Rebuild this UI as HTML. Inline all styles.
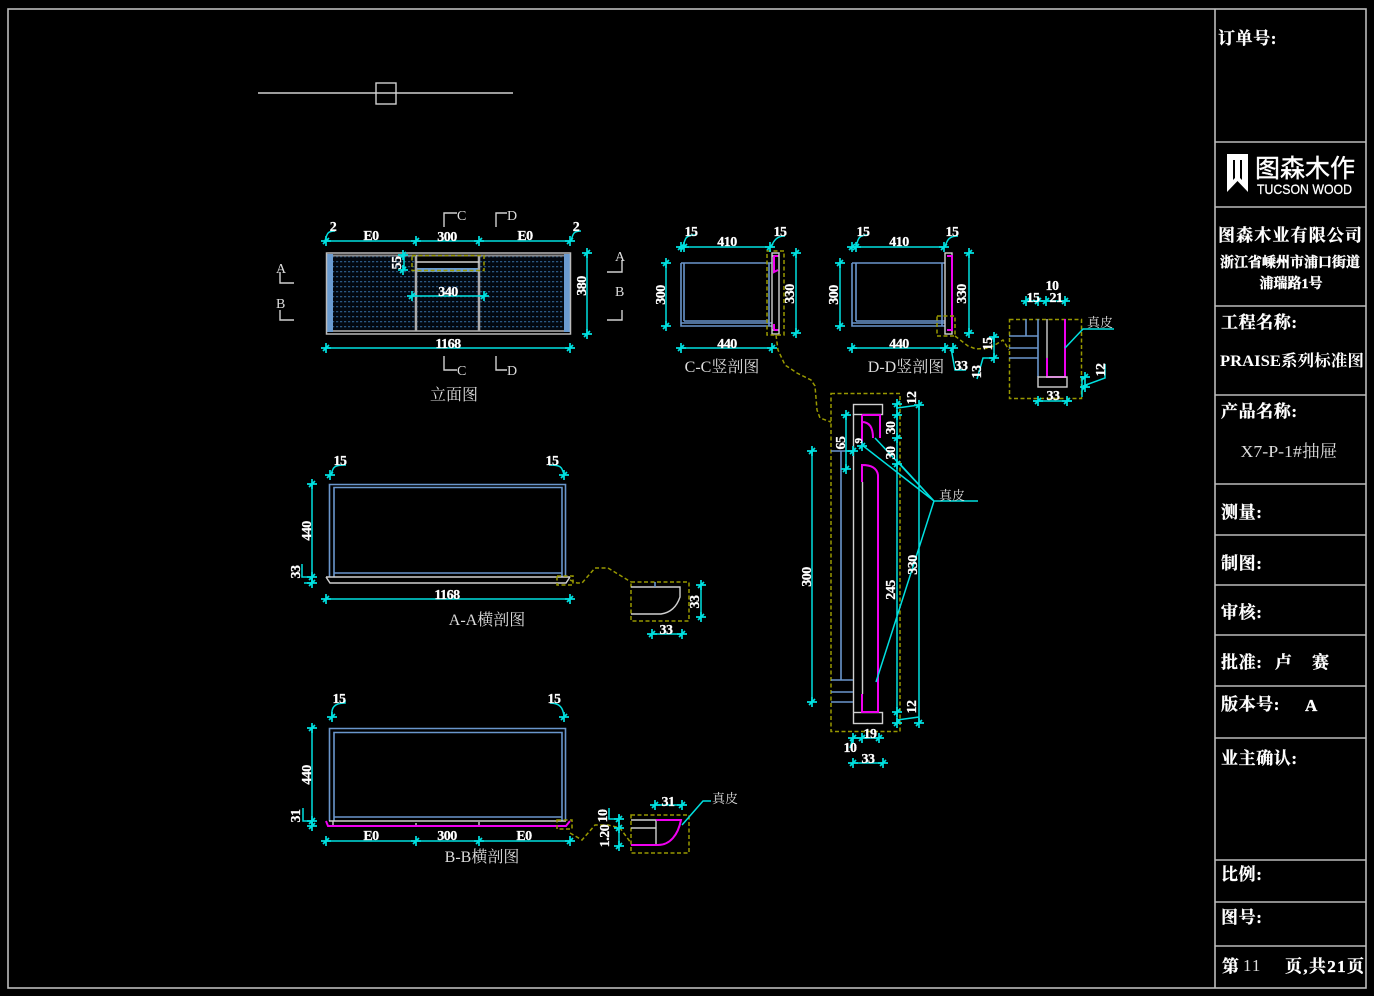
<!DOCTYPE html>
<html><head><meta charset="utf-8"><style>
html,body{margin:0;padding:0;background:#000;width:1374px;height:996px;overflow:hidden}
svg{display:block}
text{font-family:"Liberation Serif","Noto Serif CJK SC",serif;fill:#fff}
.d{font-size:14px;font-weight:bold;text-anchor:middle;letter-spacing:-.5px;stroke:#fff;stroke-width:.25}
.l{font-size:14px;fill:#ddd}
.t{font-size:16px;fill:#ddd;text-anchor:middle}
.b{font-size:17px;font-weight:bold;letter-spacing:.6px;stroke:#fff;stroke-width:.3}
.c{fill:none;stroke:#00e0e0;stroke-width:1.5}
.w{fill:none;stroke:#d0d0d0;stroke-width:1.4}
.g{fill:none;stroke:#bbb;stroke-width:2}
.u{fill:none;stroke:#6a96cc;stroke-width:1.6}
.m{fill:none;stroke:#f000f0;stroke-width:2}
.y{fill:none;stroke:#989800;stroke-width:1.5;stroke-dasharray:4 2.5}
</style></head><body>
<svg width="1374" height="996" viewBox="0 0 1374 996" xmlns="http://www.w3.org/2000/svg">
<defs>
<g id="x" class="c"><path d="M-5 0H5M0-5V5M-3 3L3-3" stroke-width="1.7"/></g>
<pattern id="h" width="4" height="5" patternUnits="userSpaceOnUse"><rect width="4" height="5" fill="#020810"/><rect x="0" y="1" width="2.2" height="1.3" fill="#2a5680"/></pattern>
</defs>
<rect width="1374" height="996" fill="#000"/>
<!-- Title block -->
<g class="g" style="stroke-width:1.6">
<rect x="8" y="9" width="1358" height="979"/>
<path d="M1215 9V988M1215 142H1366M1215 207H1366M1215 306H1366M1215 395H1366M1215 484H1366M1215 535H1366M1215 585H1366M1215 635H1366M1215 686H1366M1215 738H1366M1215 860H1366M1215 902H1366M1215 946H1366"/>
</g>
<text class="b" x="1218" y="44">订单号:</text>
<path d="M1227 154H1248V192L1237.500 181L1227 192ZM1233 160V180L1235 178V160ZM1240 160V178L1242 180V160Z" fill="#fff" fill-rule="evenodd"/>
<text x="1255" y="177" style="font-family:'Liberation Sans','Noto Sans CJK SC',sans-serif;font-size:25px;stroke:#fff;stroke-width:.4" textLength="100" lengthAdjust="spacingAndGlyphs">图森木作</text>
<text x="1257" y="194" style="font-family:'Liberation Sans',sans-serif;font-size:14px;stroke:#fff;stroke-width:.3" textLength="95" lengthAdjust="spacingAndGlyphs">TUCSON WOOD</text>
<text class="b" x="1218" y="241" textLength="144" style="letter-spacing:0">图森木业有限公司</text>
<text x="1290" y="267" text-anchor="middle" style="font-size:14px;font-weight:bold;stroke:#fff;stroke-width:.4">浙江省嵊州市浦口街道</text>
<text x="1291" y="288" text-anchor="middle" style="font-size:14px;font-weight:bold;stroke:#fff;stroke-width:.4">浦瑞路1号</text>
<text class="b" x="1221" y="328">工程名称:</text>
<text x="1220" y="366" style="font-size:16px;font-weight:bold" textLength="144" lengthAdjust="spacingAndGlyphs">PRAISE系列标准图</text>
<text class="b" x="1221" y="417">产品名称:</text>
<text x="1289" y="457" text-anchor="middle" style="font-size:17px;fill:#ddd" textLength="97" lengthAdjust="spacingAndGlyphs">X7-P-1#抽屉</text>
<text class="b" x="1221" y="518">测量:</text>
<text class="b" x="1221" y="569">制图:</text>
<text class="b" x="1221" y="618">审核:</text>
<text class="b" x="1221" y="668">批准:</text>
<text class="b" x="1275" y="668">卢</text>
<text class="b" x="1312" y="668">赛</text>
<text class="b" x="1221" y="710">版本号:</text>
<text class="b" x="1305" y="711">A</text>
<text class="b" x="1221" y="764">业主确认:</text>
<text class="b" x="1221" y="880">比例:</text>
<text class="b" x="1221" y="923">图号:</text>
<text class="b" x="1222" y="972">第</text>
<text x="1243" y="971" style="font-size:17px;fill:#ddd;letter-spacing:1px">11</text>
<text class="b" x="1285" y="972" textLength="79" style="letter-spacing:0">页,共21页</text>

<!-- Top line -->
<path class="w" d="M258 93H513"/><rect class="w" x="376" y="83" width="20" height="21"/>

<!-- Elevation -->
<rect x="333" y="256" width="83" height="75" fill="url(#h)"/>
<rect x="417" y="272" width="62" height="59" fill="url(#h)"/>
<rect x="480" y="256" width="84" height="75" fill="url(#h)"/>
<rect x="326" y="254" width="7" height="78" fill="#6a9bd0"/><rect x="564" y="254" width="6.500" height="78" fill="#6a9bd0"/>
<rect x="416" y="268" width="63" height="4" fill="#6a9bd0"/>
<rect x="326.500" y="253" width="244" height="81" fill="none" stroke="#bbb" stroke-width="1.500"/>
<path d="M333 255.500H564M333 331H564" stroke="#888" stroke-width="2" fill="none"/>
<path d="M416 255V331M479 255V331" stroke="#aaa" stroke-width="2.500" fill="none"/>
<path class="w" d="M416 262H479"/>
<rect class="y" x="412" y="255.500" width="72" height="15"/>
<path class="c" d="M325 241H571M404 253V270M412 296H484M587 253V334M325 348H571"/>
<path class="c" d="M325 241C327 233 328 231 335 231M571 241C573 233 574 231 581 231"/>
<use href="#x" x="326" y="241"/><use href="#x" x="416" y="241"/><use href="#x" x="479" y="241"/><use href="#x" x="570" y="241"/>
<use href="#x" x="403" y="255"/><use href="#x" x="403" y="270"/><use href="#x" x="412" y="296"/><use href="#x" x="484" y="296"/>
<use href="#x" x="587" y="253"/><use href="#x" x="587" y="334"/><use href="#x" x="326" y="348"/><use href="#x" x="570" y="348"/>
<text class="d" x="333" y="231">2</text><text class="d" x="576" y="231">2</text>
<text class="d" x="371" y="240">E0</text><text class="d" x="447" y="241">300</text><text class="d" x="525" y="240">E0</text>
<text class="d" x="397" y="263" transform="rotate(-90 397 263)" dy="4">55</text><text class="d" x="448" y="296">340</text>
<text class="d" x="582" y="286" transform="rotate(-90 582 286)" dy="4">380</text><text class="d" x="448" y="348">1168</text>
<g class="w"><path d="M280 272V283H294M280 310V320H294M444 227V213H457M496 227V213H507M444 356V370H457M496 356V370H507M622 260V272H607M622 310V320H607"/></g>
<text class="l" x="276" y="273">A</text><text class="l" x="276" y="308">B</text><text class="l" x="457" y="220">C</text><text class="l" x="507" y="220">D</text>
<text class="l" x="457" y="375">C</text><text class="l" x="507" y="375">D</text><text class="l" x="615" y="261">A</text><text class="l" x="615" y="296">B</text>
<text class="t" x="454" y="400">立面图</text>

<!-- C-C -->
<path class="u" d="M681 263H772M681 263V326H772M684 263V321M769 263V326M684 321H769M681 323H772"/>
<rect class="w" x="772" y="253" width="7" height="81"/><path class="w" d="M772 256H779M772 330H779"/>
<path class="m" d="M774 256H778M774 256V272L778 270M774 330H778M774 330V324"/>
<rect class="y" x="767" y="251" width="17" height="84"/>
<path class="c" d="M681 247H773M666 263V326M796 253V333M681 348H773"/>
<path class="c" d="M683 247C685 238 686 235 695 235M771 247C774 240 777 236 785 236"/>
<use href="#x" x="681" y="247"/><use href="#x" x="684" y="247"/><use href="#x" x="770" y="247"/>
<use href="#x" x="666" y="263"/><use href="#x" x="666" y="326"/><use href="#x" x="796" y="253"/><use href="#x" x="796" y="333"/><use href="#x" x="681" y="348"/><use href="#x" x="772" y="348"/>
<text class="d" x="691" y="236">15</text><text class="d" x="780" y="236">15</text><text class="d" x="727" y="246">410</text><text class="d" x="727" y="348">440</text>
<text class="d" x="661" y="295" transform="rotate(-90 661 295)" dy="4">300</text><text class="d" x="790" y="294" transform="rotate(-90 790 294)" dy="4">330</text>
<text class="t" x="722" y="372">C-C竖剖图</text>

<!-- D-D -->
<path class="u" d="M852 263H945M852 263V326H945M856 263V321M942 263V326M856 321H945M852 323H945"/>
<rect class="w" x="945" y="253" width="7" height="81"/>
<path class="m" d="M947 256H952V330H947"/>
<rect class="y" x="937" y="316" width="18" height="20"/>
<path class="c" d="M852 247H945M840 263V326M969 253V333M852 348H945M951 348L955 370H966"/>
<path class="c" d="M856 247C858 238 859 235 868 235M945 247C947 240 949 236 958 236"/>
<use href="#x" x="852" y="247"/><use href="#x" x="856" y="247"/><use href="#x" x="944" y="247"/>
<use href="#x" x="840" y="263"/><use href="#x" x="840" y="326"/><use href="#x" x="969" y="253"/><use href="#x" x="969" y="333"/><use href="#x" x="852" y="348"/><use href="#x" x="945" y="348"/><use href="#x" x="953" y="348"/>
<text class="d" x="863" y="236">15</text><text class="d" x="952" y="236">15</text><text class="d" x="899" y="246">410</text><text class="d" x="899" y="348">440</text>
<text class="d" x="834" y="295" transform="rotate(-90 834 295)" dy="4">300</text><text class="d" x="962" y="294" transform="rotate(-90 962 294)" dy="4">330</text>
<text class="d" x="961" y="370">33</text>
<text class="t" x="906" y="372">D-D竖剖图</text>
<path class="y" d="M955 336L968 346L976 349L990 348L1003 340L1009 350"/>

<!-- D detail -->
<rect class="y" x="1009.500" y="319.500" width="72" height="79"/>
<path class="u" d="M1026 319V336M1009 336H1038M1009 348H1038M1009 358H1038M1038 319V377"/>
<path class="w" d="M1047 319V358"/>
<path class="m" d="M1047 358V377H1065V319"/>
<rect class="w" x="1038" y="377" width="29" height="10"/>
<path class="c" d="M1025 301H1068M1065 348L1083 329H1114M994 337V358L983 358 977 379M1082 397V376M1083 386L1105 378V364M1033 401H1072"/>
<use href="#x" x="1026" y="301"/><use href="#x" x="1038" y="301"/><use href="#x" x="1046" y="301"/><use href="#x" x="1065" y="301"/>
<use href="#x" x="994" y="337"/><use href="#x" x="994" y="358"/><use href="#x" x="1085" y="377"/><use href="#x" x="1085" y="387"/><use href="#x" x="1038" y="401"/><use href="#x" x="1067" y="401"/>
<text class="d" x="1033" y="302">15</text><text class="d" x="1052" y="290">10</text><text class="d" x="1056" y="302">21</text>
<text class="d" x="988" y="344" transform="rotate(-90 988 344)" dy="4">15</text><text class="d" x="977" y="372" transform="rotate(-90 977 372)" dy="4">13</text>
<text class="d" x="1101" y="370" transform="rotate(-90 1101 370)" dy="4">12</text><text class="d" x="1053" y="400">33</text>
<text class="l" x="1087" y="327" style="font-size:13px">真皮</text>

<!-- Connector C-C to big section -->
<path class="y" d="M776 335L778 350L785 365L797 373L811 380L815 386L817 410L820 418L831 422"/>

<!-- Big section -->
<rect class="y" x="831" y="393.500" width="69" height="338"/>
<rect class="w" x="853.500" y="404.500" width="29" height="10"/><rect class="w" x="853.500" y="712.500" width="29" height="11"/>
<path class="w" d="M853.500 414V712M862.500 482V694"/>
<path class="u" d="M831 451H853M841 451V680M831 680H853M831 692H853M831 702H853"/>
<path class="m" d="M862 482V465C871 465 877 468 878 475V712H862V694M862 415V446M862 415H880V438M862 422C870 422 873 428 873 438"/>
<path class="c" d="M812 451V702M846 415V469M897 404V723M919 405V723M853 738H879M853 763H883M978 501H934L875 438M934 501L862 445M934 501L900 464M934 501L876 682M919 405L897 408M919 717L897 720M853 738L850 748M846 451H853"/>
<use href="#x" x="812" y="451"/><use href="#x" x="812" y="702"/><use href="#x" x="846" y="415"/><use href="#x" x="846" y="469"/>
<use href="#x" x="897" y="404"/><use href="#x" x="897" y="415"/><use href="#x" x="897" y="438"/><use href="#x" x="897" y="464"/><use href="#x" x="897" y="712"/><use href="#x" x="897" y="723"/>
<use href="#x" x="919" y="405"/><use href="#x" x="919" y="723"/><use href="#x" x="853" y="738"/><use href="#x" x="862" y="738"/><use href="#x" x="879" y="738"/><use href="#x" x="853" y="763"/><use href="#x" x="883" y="763"/><use href="#x" x="853" y="451"/><use href="#x" x="862" y="446"/>
<text class="d" x="808" y="577" transform="rotate(-90 808 577)" dy="3">300</text><text class="d" x="841" y="443" transform="rotate(-90 841 443)" dy="4">65</text><text class="d" x="858" y="441" transform="rotate(-90 858 441)" dy="4" style="font-size:11px">9</text>
<text class="d" x="912" y="398" transform="rotate(-90 912 398)" dy="4">12</text><text class="d" x="891" y="428" transform="rotate(-90 891 428)" dy="4">30</text><text class="d" x="891" y="453" transform="rotate(-90 891 453)" dy="4">30</text>
<text class="d" x="891" y="590" transform="rotate(-90 891 590)" dy="4">245</text><text class="d" x="913" y="565" transform="rotate(-90 913 565)" dy="4">330</text><text class="d" x="912" y="707" transform="rotate(-90 912 707)" dy="4">12</text>
<text class="d" x="870" y="738">19</text><text class="d" x="850" y="752">10</text><text class="d" x="868" y="763">33</text>
<text class="l" x="939" y="500" style="font-size:13px">真皮</text>

<!-- A-A -->
<path class="u" d="M329.500 577V484.500H565.500V577M334 577V487.500H562V577M334 573H562"/>
<path class="w" d="M326 577H570M326 577L330 583H566L570 577"/>
<rect class="y" x="557" y="576" width="16" height="9"/>
<path class="y" d="M570 580L577 583H582L595 568H608L631 582"/>
<path class="c" d="M312 484V583M326 599H570M331 475C333 466 335 465 346 465M564 475C562 466 560 465 549 465M312 577L302 577V564M312 583H304"/>
<use href="#x" x="312" y="484"/><use href="#x" x="312" y="577"/><use href="#x" x="312" y="583"/><use href="#x" x="330" y="475"/><use href="#x" x="564" y="475"/><use href="#x" x="326" y="599"/><use href="#x" x="570" y="599"/>
<text class="d" x="340" y="465">15</text><text class="d" x="552" y="465">15</text><text class="d" x="307" y="531" transform="rotate(-90 307 531)" dy="4">440</text><text class="d" x="296" y="572" transform="rotate(-90 296 572)" dy="4">33</text><text class="d" x="447" y="599">1168</text>
<text class="t" x="487" y="625">A-A横剖图</text>
<rect class="y" x="631" y="582" width="58" height="39"/>
<path class="w" d="M631 587H680V597C676 609 668 613 661 614H631"/>
<path class="u" d="M655 582V587"/>
<path class="c" d="M701 585V617M652 634H682"/>
<use href="#x" x="701" y="585"/><use href="#x" x="701" y="617"/><use href="#x" x="652" y="634"/><use href="#x" x="682" y="634"/>
<text class="d" x="695" y="602" transform="rotate(-90 695 602)" dy="4">33</text><text class="d" x="666" y="634">33</text>

<!-- B-B -->
<path class="u" d="M329.500 821V728.500H565.500V821M334 821V732.500H562V821M334 817H562"/>
<path class="w" d="M329 821H566M333 826V821M416 826V823M479 826V822"/>
<path class="m" d="M326 821L328 826H566L570 821"/>
<rect class="y" x="557" y="820" width="15" height="9"/>
<path class="y" d="M570 833L582 840L595 825H608L620 828L631 843"/>
<path class="c" d="M312 728V824M326 841H570M332 716C331 708 334 703 345 703V700M564 716C563 708 560 703 550 703M312 821L303 821V808"/>
<use href="#x" x="312" y="728"/><use href="#x" x="312" y="821"/><use href="#x" x="312" y="826"/><use href="#x" x="332" y="717"/><use href="#x" x="564" y="717"/>
<use href="#x" x="326" y="841"/><use href="#x" x="416" y="841"/><use href="#x" x="479" y="841"/><use href="#x" x="570" y="841"/>
<text class="d" x="339" y="703">15</text><text class="d" x="554" y="703">15</text><text class="d" x="307" y="775" transform="rotate(-90 307 775)" dy="4">440</text><text class="d" x="296" y="816" transform="rotate(-90 296 816)" dy="4">31</text>
<text class="d" x="371" y="840">E0</text><text class="d" x="447" y="840">300</text><text class="d" x="524" y="840">E0</text>
<text class="t" x="482" y="862">B-B横剖图</text>
<rect class="y" x="631" y="815" width="58" height="38"/>
<path class="w" d="M631 820H656V845M631 828H656"/>
<path class="m" d="M631 845H658C670 845 678 835 681 820H656"/>
<path class="c" d="M655 805H682M682 825L703 801H711M619 815V848M609 808V819H619"/>
<use href="#x" x="655" y="805"/><use href="#x" x="682" y="805"/><use href="#x" x="619" y="819"/><use href="#x" x="619" y="828"/><use href="#x" x="619" y="846"/>
<text class="d" x="668" y="806">31</text><text class="d" x="603" y="816" transform="rotate(-90 603 816)" dy="4">10</text><text class="d" x="605" y="836" transform="rotate(-90 605 836)" dy="4">1.20</text>
<text class="l" x="712" y="803" style="font-size:13px">真皮</text>
</svg>
</body></html>
